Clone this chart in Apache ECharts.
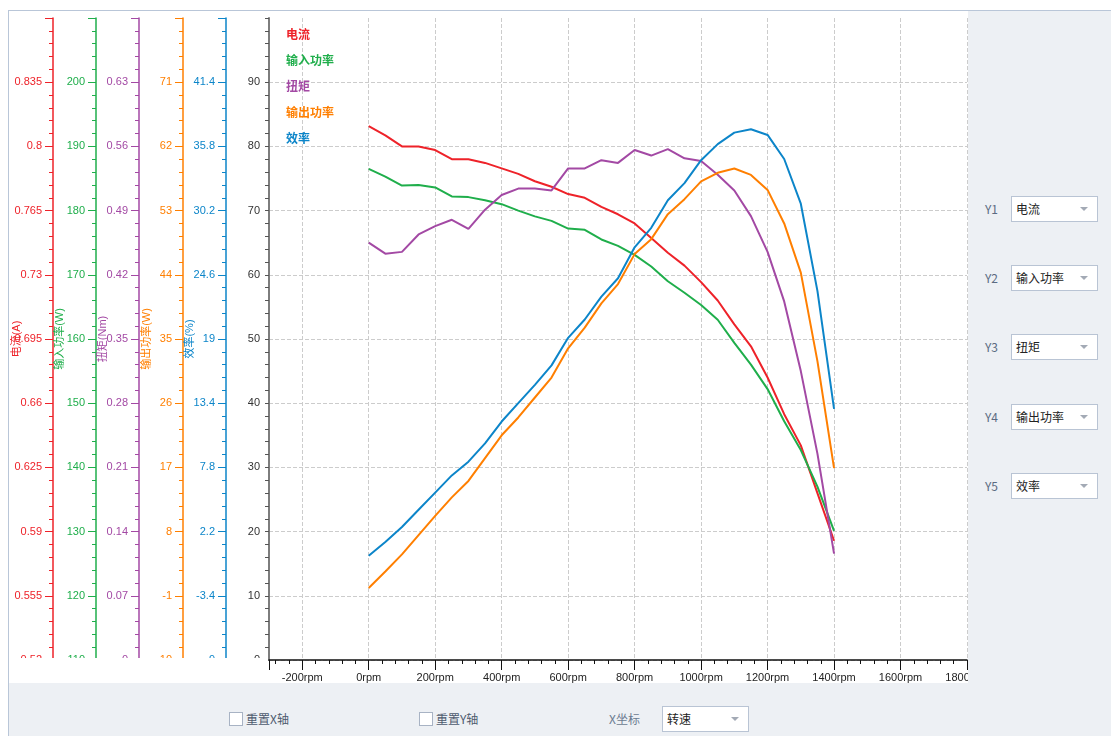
<!DOCTYPE html>
<html>
<head>
<meta charset="utf-8">
<script src="https://cdn.jsdelivr.net/npm/echarts@6/dist/echarts.min.js"></script>
<style>
html,body{margin:0;padding:0;width:1111px;height:736px;overflow:hidden;background:#fff;font-family:"Noto Sans CJK SC","Liberation Sans",sans-serif;}
#frame{position:absolute;left:8px;top:10px;width:1102px;height:725px;border-left:1px solid #b9c6d8;border-top:1px solid #b9c6d8;background:#edf0f4;}
#chart{position:absolute;left:9px;top:11px;width:959px;height:672px;background:#fff;}
.lbl{position:absolute;font-size:12px;color:#5b6b82;line-height:16px;white-space:nowrap;}
.sel{position:absolute;width:85px;height:24px;background:#fff;border:1px solid #b9c4d4;font-size:12px;color:#222;line-height:24px;}
.sel span{position:absolute;left:4px;top:0;}
.sel i{position:absolute;right:9px;top:10px;width:0;height:0;border-left:4px solid transparent;border-right:4px solid transparent;border-top:4px solid #a3aab5;}
.chk{position:absolute;width:12px;height:12px;border:1px solid #a8b3c4;background:#fff;}
</style>
</head>
<body>
<div id="frame"></div>
<div id="chart"></div>

<div class="lbl" style="left:985px;top:201px;">Y1</div>
<div class="sel" style="left:1011px;top:196px;"><span>电流</span><i></i></div>
<div class="lbl" style="left:985px;top:270px;">Y2</div>
<div class="sel" style="left:1011px;top:265px;"><span>输入功率</span><i></i></div>
<div class="lbl" style="left:985px;top:339px;">Y3</div>
<div class="sel" style="left:1011px;top:334px;"><span>扭矩</span><i></i></div>
<div class="lbl" style="left:985px;top:409px;">Y4</div>
<div class="sel" style="left:1011px;top:404px;"><span>输出功率</span><i></i></div>
<div class="lbl" style="left:985px;top:478px;">Y5</div>
<div class="sel" style="left:1011px;top:473px;"><span>效率</span><i></i></div>

<div class="chk" style="left:229px;top:712px;"></div>
<div class="lbl" style="left:246px;top:711px;color:#4d5a6e;">重置X轴</div>
<div class="chk" style="left:419px;top:712px;"></div>
<div class="lbl" style="left:436px;top:711px;color:#4d5a6e;">重置Y轴</div>
<div class="lbl" style="left:609px;top:711px;color:#6b7a90;">X坐标</div>
<div class="sel" style="left:662px;top:706px;"><span>转速</span><i></i></div>

<script>
// Motor test curves versus speed (rpm)
const rpm = [0, 50, 100, 150, 200, 250, 300, 350, 400, 450, 500, 550, 600, 650, 700,
             750, 800, 850, 900, 950, 1000, 1050, 1100, 1150, 1200, 1250, 1300, 1350, 1400];

// 电流 (A)
const current = [0.811, 0.806, 0.800, 0.800, 0.798, 0.793, 0.793, 0.791, 0.788, 0.785,
                 0.781, 0.778, 0.774, 0.772, 0.767, 0.763, 0.758, 0.750, 0.742, 0.735,
                 0.726, 0.716, 0.703, 0.691, 0.674, 0.654, 0.637, 0.611, 0.585];

// 输入功率 (W)
const inputPower = [186.5, 185.3, 183.9, 184.0, 183.6, 182.2, 182.1, 181.6, 181.0, 180.0,
                    179.1, 178.4, 177.2, 177.0, 175.5, 174.5, 173.1, 171.3, 169.0, 167.2,
                    165.3, 163.0, 159.4, 156.0, 152.2, 147.2, 142.7, 137.0, 130.1];

// 扭矩 (Nm)
const torque = [0.455, 0.443, 0.445, 0.464, 0.473, 0.480, 0.470, 0.491, 0.507, 0.514,
                0.514, 0.512, 0.536, 0.536, 0.545, 0.542, 0.556, 0.550, 0.557, 0.547,
                0.544, 0.529, 0.512, 0.484, 0.445, 0.391, 0.315, 0.225, 0.116];

// 输出功率 (W)
const outputPower = [0.1, 2.4, 4.8, 7.5, 10.2, 12.8, 15.1, 18.3, 21.5, 24.0,
                     26.8, 29.6, 33.7, 36.6, 40.0, 42.7, 46.9, 49.0, 52.5, 54.6,
                     57.1, 58.3, 58.9, 58.0, 55.9, 51.2, 44.3, 31.9, 16.9];

// 效率 (%)
const efficiency = [0.1, 1.3, 2.6, 4.1, 5.6, 7.1, 8.3, 9.9, 11.8, 13.4,
                    15.0, 16.7, 19.1, 20.7, 22.7, 24.3, 27.0, 28.7, 31.1, 32.6,
                    34.6, 36.0, 37.0, 37.3, 36.8, 34.7, 30.8, 23.2, 12.9];

const seriesNames = ['电流', '输入功率', '扭矩', '输出功率', '效率'];
const axisNames = ['电流(A)', '输入功率(W)', '扭矩(Nm)', '输出功率(W)', '效率(%)'];
const colors = ['#ee2229', '#1fae4b', '#a349a4', '#ff7f00', '#0c85c9'];
const seriesValues = [current, inputPower, torque, outputPower, efficiency];

// Scale of each colored axis: [min, max, interval]
const axisScales = [
  [0.52, 0.87, 0.035],
  [110, 210, 10],
  [0, 0.7, 0.07],
  [-10, 80, 9],
  [-9, 47, 5.6]
];
// Horizontal offsets of the colored axes, from the main axis outwards
const axisOffsets = [216, 173, 130, 86, 43];

const FONT = '"Liberation Sans", "Noto Sans CJK SC", sans-serif';

const chart = echarts.init(document.getElementById('chart'), null, { renderer: 'canvas' });

const yAxes = [{
  type: 'value',
  position: 'left',
  min: 0, max: 100, interval: 10,
  axisLine: { show: true, onZero: false, lineStyle: { color: '#7d7d7d', width: 2 } },
  axisTick: { show: true, length: 4, lineStyle: { color: '#555' } },
  minorTick: { show: true, splitNumber: 5, length: 4, lineStyle: { color: '#555' } },
  axisLabel: { color: '#333', fontSize: 11, fontFamily: FONT, margin: 9, showMaxLabel: false },
  splitLine: { show: true, showMaxLine: false, lineStyle: { type: 'dashed', color: '#cccccc' } }
}];

axisScales.forEach((s, i) => {
  yAxes.push({
    type: 'value',
    position: 'left',
    offset: axisOffsets[i],
    min: s[0], max: s[1], interval: s[2],
    name: axisNames[i],
    nameLocation: 'middle',
    nameGap: 31,
    nameMoveOverlap: false,
    nameTextStyle: { color: colors[i], fontSize: 11, fontFamily: FONT },
    axisLine: { show: true, onZero: false, lineStyle: { color: colors[i], width: 1.5 } },
    axisTick: { show: true, length: 8, lineStyle: { color: colors[i] } },
    minorTick: { show: true, splitNumber: 5, length: 4, lineStyle: { color: colors[i] } },
    axisLabel: { color: colors[i], fontSize: 11, fontFamily: FONT, margin: 11, showMaxLabel: false },
    splitLine: { show: false }
  });
});

const series = seriesValues.map((vals, i) => ({
  name: seriesNames[i],
  type: 'line',
  yAxisIndex: i + 1,
  data: rpm.map((x, j) => [x, vals[j]]),
  showSymbol: false,
  symbol: 'none',
  lineStyle: { color: colors[i], width: 2 },
  itemStyle: { color: colors[i] },
  animation: false
}));

chart.setOption({
  animation: false,
  grid: { left: 260, top: 7, right: 1, bottom: 23, containLabel: false, outerBoundsMode: 'none' },
  legend: {
    orient: 'vertical',
    left: 267,
    top: 11,
    icon: 'rect',
    itemWidth: 0,
    itemHeight: 14,
    itemGap: 12,
    selectedMode: false,
    textStyle: { fontSize: 12, fontWeight: 'bold', fontFamily: '"Noto Sans CJK SC", sans-serif' },
    data: seriesNames.map((n, i) => ({ name: n, textStyle: { color: colors[i] } }))
  },
  xAxis: {
    type: 'value',
    min: -300, max: 1800, splitNumber: 10,
    axisLine: { show: true, onZero: false, lineStyle: { color: '#111', width: 1.5 } },
    axisTick: { show: true, length: 10, lineStyle: { color: '#111' } },
    minorTick: { show: true, splitNumber: 5, length: 4, lineStyle: { color: '#111' } },
    axisLabel: {
      color: '#222', fontSize: 11, fontFamily: FONT, margin: 12, showMinLabel: false,
      formatter: v => v + 'rpm'
    },
    splitLine: { show: true, lineStyle: { type: 'dashed', color: '#cccccc' } }
  },
  yAxis: yAxes,
  series: series,
  graphic: [{
    type: 'rect',
    silent: true,
    zlevel: 5,
    z: 100,
    shape: { x: 0, y: 647, width: 259, height: 25 },
    style: { fill: '#fff' }
  }]
});
</script>
</body>
</html>
